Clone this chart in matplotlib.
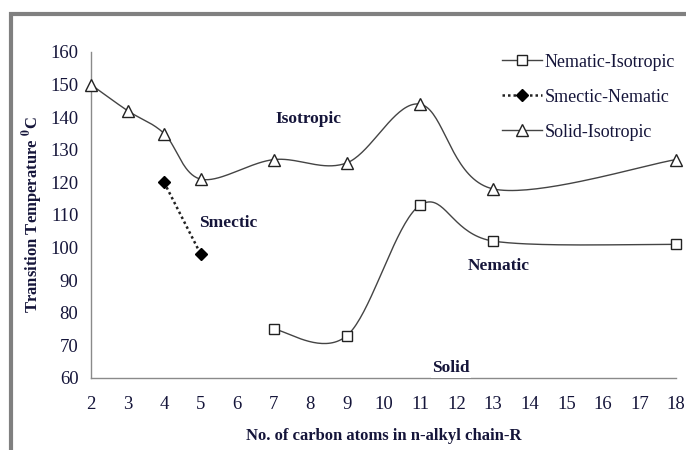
import numpy as np
import matplotlib
matplotlib.use("Agg")
import matplotlib.pyplot as plt
from matplotlib.lines import Line2D
from matplotlib.patches import Rectangle

plt.rcParams['font.family'] = ['Liberation Serif', 'DejaVu Serif']
plt.rcParams['mathtext.fontset'] = 'stix'

# data
ni_x = [7, 9, 11, 13, 18]
ni_y = [75, 73, 113, 102, 101]
sn_x = [4, 5]
sn_y = [120, 98]
si_x = [2, 3, 4, 5, 7, 9, 11, 13, 18]
si_y = [150, 142, 135, 121, 127, 126, 144, 118, 127]

x_ticks = list(range(2, 19))
y_ticks = list(range(60, 161, 10))

TXT = '#15153a'
LINE = '#444444'


def smooth(xs, ys, sx=36.5, sy=3.26, n=40):
    # excel-like smoothed line, spline done in pixel-ish space
    P = np.column_stack([np.array(xs) * sx, np.array(ys) * sy])
    out = []
    for i in range(len(P) - 1):
        p0 = P[i - 1] if i > 0 else P[i]
        p3 = P[i + 2] if i + 2 < len(P) else P[i + 1]
        p1, p2 = P[i], P[i + 1]
        c1 = p1 + (p2 - p0) / 6
        c2 = p2 - (p3 - p1) / 6
        t = np.linspace(0, 1, n)[:, None]
        seg = (1 - t) ** 3 * p1 + 3 * (1 - t) ** 2 * t * c1 + 3 * (1 - t) * t ** 2 * c2 + t ** 3 * p2
        out.append(seg if i == 0 else seg[1:])
    out = np.vstack(out)
    return out[:, 0] / sx, out[:, 1] / sy


fig = plt.figure(figsize=(6.86, 4.5), dpi=100)
ax = fig.add_axes([91 / 686, 1 - 378 / 450, (676 - 91) / 686, (378 - 52) / 450])

# gray frame around the chart
fig.patches.append(Rectangle((11 / 686, -0.1), 1.2, 1 - 14 / 450 + 0.1, transform=fig.transFigure,
                             fill=False, edgecolor='#808080', linewidth=3, zorder=0))

sx, sy = smooth(si_x, si_y)
ax.plot(sx, sy, color=LINE, lw=1.0, zorder=2, clip_on=False)
ax.plot(si_x, si_y, ls='none', marker='^', ms=8, mfc='white', mec='#222222', mew=1.0, zorder=3,
        clip_on=False)

nx, ny = smooth(ni_x, ni_y)
ax.plot(nx, ny, color=LINE, lw=1.0, zorder=2, clip_on=False)
ax.plot(ni_x, ni_y, ls='none', marker='s', ms=7.5, mfc='white', mec='#222222', mew=1.0, zorder=3,
        clip_on=False)

ax.plot(sn_x, sn_y, color='#222222', lw=1.8, ls=(0, (1, 1.2)), marker='D', ms=6,
        mfc='black', mec='black', zorder=3)

ax.set_xlim(2, 18)
ax.set_ylim(60, 160)
ax.set_xticks(x_ticks)
ax.set_yticks(y_ticks)
ax.tick_params(length=0, labelsize=13.5, labelcolor=TXT, pad=9)
ax.tick_params(axis='x', pad=13)
for s in ['top', 'right']:
    ax.spines[s].set_visible(False)
for s in ['left', 'bottom']:
    ax.spines[s].set_color('#8a8a8a')
    ax.spines[s].set_linewidth(1.0)

ax.set_xlabel('No. of carbon atoms in n-alkyl chain-R', fontsize=12, fontweight='bold',
              color=TXT, labelpad=11)
ax.set_ylabel(r'Transition Temperature $^\mathbf{0}$C', fontsize=12, fontweight='bold',
              color=TXT, labelpad=4)

ax.text(7.95, 139.5, 'Isotropic', fontsize=12.5, fontweight='bold', color=TXT, ha='center', va='center')
ax.text(5.75, 107.5, 'Smectic', fontsize=12.5, fontweight='bold', color=TXT, ha='center', va='center')
ax.text(13.15, 94.5, 'Nematic', fontsize=12.5, fontweight='bold', color=TXT, ha='center', va='center')
ax.text(11.85, 63.0, 'Solid', fontsize=12.5, fontweight='bold', color=TXT, ha='center', va='center',
        bbox=dict(facecolor='white', edgecolor='none', pad=1))

handles = [
    Line2D([], [], color=LINE, lw=1.0, marker='s', ms=7.5, mfc='white', mec='#222222'),
    Line2D([], [], color='#222222', lw=1.8, ls=(0, (1, 1.2)), marker='D', ms=6, mfc='black', mec='black'),
    Line2D([], [], color=LINE, lw=1.0, marker='^', ms=8, mfc='white', mec='#222222'),
]
labels = ['Nematic-Isotropic', 'Smectic-Nematic', 'Solid-Isotropic']
leg = ax.legend(handles, labels, loc='upper left', bbox_to_anchor=(0.675, 1.045), frameon=False,
                fontsize=13, handlelength=2.2, handletextpad=0.15, labelspacing=1.0)
for t in leg.get_texts():
    t.set_color(TXT)

fig.savefig('out.png', dpi=100)
